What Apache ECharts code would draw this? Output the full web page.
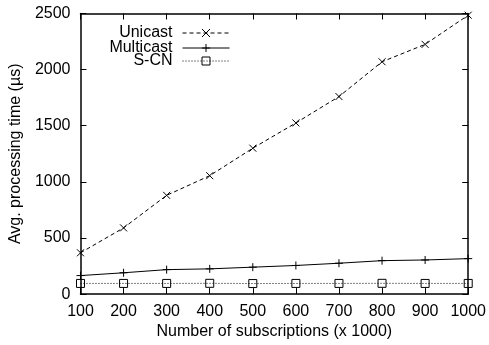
<!DOCTYPE html>
<html>
<head>
<meta charset="utf-8">
<script src="https://cdn.jsdelivr.net/npm/echarts@6/dist/echarts.min.js"></script>
<style>
  html, body { margin: 0; padding: 0; background: #fff; }
  #chart { width: 489px; height: 345px; }
</style>
</head>
<body>
<div id="chart"></div>
<script>
// subscriptions (x 1000)
const subscriptions = [100, 200, 300, 400, 500, 600, 700, 800, 900, 1000];
// avg processing time (us)
const unicast = [368, 590, 880, 1055, 1300, 1525, 1760, 2070, 2225, 2485];
const multicast = [165, 190, 218, 225, 240, 255, 275, 298, 304, 316];
const scn = [95, 95, 95, 96, 94, 95, 95, 96, 95, 95];

const font = 'Liberation Sans, Arial, Helvetica, sans-serif';

function pairs(vals) {
  return subscriptions.map((x, i) => [x, vals[i]]);
}

const chart = echarts.init(document.getElementById('chart'));

const axisLine = { show: true, onZero: false, lineStyle: { color: '#000', width: 1.5 } };
const tick = { show: true, inside: true, length: 6, lineStyle: { color: '#000', width: 1 } };
const label = { color: '#000', fontSize: 16, fontFamily: font };

function legendFor(name, top) {
  return {
    data: [name],
    right: 259,
    top: top,
    padding: 0,
    itemWidth: 47,
    itemHeight: 10,
    align: 'right',
    selectedMode: false,
    lineStyle: { width: 1 },
    itemStyle: { borderWidth: 1 },
    textStyle: { color: '#000', fontSize: 16, fontFamily: font, padding: [0, 5, 0, 0] }
  };
}

const markStyle = { color: 'transparent', borderColor: '#000', borderWidth: 1 };
const plain = v => String(v);

chart.setOption({
  animation: false,
  grid: { left: 78, right: 19, top: 13.5, bottom: 46 },
  legend: [
    legendFor('Unicast', 25),
    legendFor('Multicast', 40),
    legendFor('S-CN', 53)
  ],
  xAxis: [{
    type: 'value',
    min: 100, max: 1000, interval: 100,
    name: 'Number of subscriptions (x 1000)',
    nameLocation: 'middle',
    nameGap: 29,
    nameTextStyle: label,
    axisLine: axisLine,
    axisTick: tick,
    axisLabel: Object.assign({ margin: 9, formatter: plain }, label),
    splitLine: { show: false }
  }, {
    type: 'value',
    position: 'top',
    min: 100, max: 1000, interval: 100,
    axisLine: axisLine,
    axisTick: tick,
    axisLabel: { show: false },
    splitLine: { show: false }
  }],
  yAxis: [{
    type: 'value',
    min: 0, max: 2500, interval: 500,
    name: 'Avg. processing time (\u00b5s)',
    nameLocation: 'middle',
    nameGap: 53,
    nameTextStyle: label,
    axisLine: axisLine,
    axisTick: tick,
    axisLabel: Object.assign({ margin: 10, formatter: plain }, label),
    splitLine: { show: false }
  }, {
    type: 'value',
    position: 'right',
    min: 0, max: 2500, interval: 500,
    axisLine: axisLine,
    axisTick: tick,
    axisLabel: { show: false },
    splitLine: { show: false }
  }],
  series: [{
    name: 'Unicast',
    type: 'line',
    data: pairs(unicast),
    symbol: 'path://M0,0L10,10M10,0L0,10',
    symbolSize: 7,
    itemStyle: markStyle,
    lineStyle: { color: '#000', width: 1, type: [4, 3] }
  }, {
    name: 'Multicast',
    type: 'line',
    data: pairs(multicast),
    symbol: 'path://M5,0L5,10M0,5L10,5',
    symbolSize: 8,
    itemStyle: markStyle,
    lineStyle: { color: '#000', width: 1, type: 'solid' }
  }, {
    name: 'S-CN',
    type: 'line',
    data: pairs(scn),
    symbol: 'path://M0,0L10,0L10,10L0,10Z',
    symbolSize: 8,
    itemStyle: markStyle,
    lineStyle: { color: '#000', width: 1, type: [1, 2] }
  }]
});
</script>
</body>
</html>
